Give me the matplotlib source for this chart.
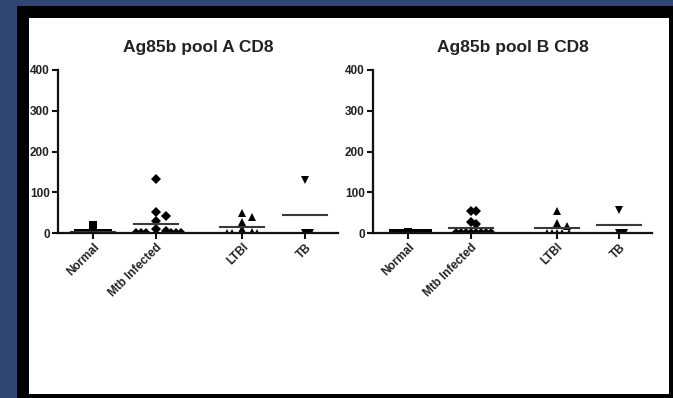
import numpy as np
import matplotlib
matplotlib.use("Agg")
import matplotlib.pyplot as plt
from matplotlib.patches import Rectangle

plt.rcParams["font.family"] = ["Liberation Sans", "DejaVu Sans"]

# group labels and per-donor responses (SFC / 10^6 cells)
groups = ["Normal", "Mtb Infected", "LTBI", "TB"]
markers = ["s", "D", "^", "v"]

pool_a_normal = [19, 0, 0, 0, 0, 0, 0, 0]
pool_a_mtb = [133, 52, 42, 29, 11, 4, 0, 0, 0, 0, 0, 0]
pool_a_ltbi = [48, 39, 27, 9, 2, 0, 0, 0]
pool_a_tb = [130, 0, 0]

pool_b_normal = [2, 1, 0, 0, 0, 0, 0, 0]
pool_b_mtb = [53, 53, 27, 21, 0, 0, 0, 0, 0, 0, 0, 0]
pool_b_ltbi = [53, 24, 17, 0, 0, 0, 0, 0]
pool_b_tb = [56, 0, 0]

titles = ["Ag85b pool A CD8", "Ag85b pool B CD8"]
yticks = [0, 100, 200, 300, 400]

W, H = 673, 398
xpos = [0.0, 1.0, 2.37, 3.37]
xlim = (-0.56, 3.89)
ylim = (0, 400)


def swarm(vals, px_x, px_y, dx_row=5.0, dx_min=10.0, dy_min=7.0, step=2.5):
    """simple beeswarm: offsets (data units) so markers don't pile up.
    points in the same pixel row only need dx_row apart, others are kept
    outside an ellipse of dx_min x dy_min"""
    order = np.argsort(-vals, kind="stable")
    placed = []
    offs = np.zeros(len(vals))
    for i in order:
        y = vals[i] * px_y
        k = 0
        while True:
            cand = ((k + 1) // 2) * step * (1 if k % 2 else -1)
            ok = True
            for px, py in placed:
                dx, dy = cand - px, y - py
                if abs(dy) < 2.5:
                    clash = abs(dx) < dx_row
                else:
                    clash = (dx / dx_min) ** 2 + (dy / dy_min) ** 2 < 1
                if clash:
                    ok = False
                    break
            if ok:
                break
            k += 1
        placed.append((cand, y))
        offs[i] = cand / px_x
    return offs


fig = plt.figure(figsize=(W / 100, H / 100), dpi=100, facecolor="#2f4672")
# black frame and white slide panel, kept behind the axes
fig.patches.append(Rectangle((17 / W, 0), 1 - 17 / W, 1 - 6 / H,
                             transform=fig.transFigure, facecolor="black",
                             edgecolor="none", zorder=-2))
fig.patches.append(Rectangle((29 / W, 4 / H), (669 - 29) / W, (394 - 18) / H,
                             transform=fig.transFigure, facecolor="white",
                             edgecolor="none", zorder=-1))

panels = [
    [pool_a_normal, pool_a_mtb, pool_a_ltbi, pool_a_tb],
    [pool_b_normal, pool_b_mtb, pool_b_ltbi, pool_b_tb],
]
lefts = [58, 373]
widths = [280, 279]
bottom = 1 - 233 / H
height = (233 - 70) / H

for p, data in enumerate(panels):
    ax = fig.add_axes([lefts[p] / W, bottom, widths[p] / W, height])
    ax.set_facecolor("none")
    ax.set_xlim(*xlim)
    ax.set_ylim(*ylim)
    px_x = widths[p] / (xlim[1] - xlim[0])
    px_y = (233 - 70) / (ylim[1] - ylim[0])

    for g, vals in enumerate(data):
        vals = np.asarray(vals, dtype=float)
        offs = swarm(vals, px_x, px_y)
        ax.plot(xpos[g] + offs, vals, linestyle="none", marker=markers[g],
                markersize=5.2, color="black", markeredgewidth=0)
        m = vals.mean()
        ax.plot([xpos[g] - 0.35, xpos[g] + 0.35], [m, m], color="#3a3a3a",
                linewidth=1.5)

    for s in ["top", "right"]:
        ax.spines[s].set_visible(False)
    for s in ["left", "bottom"]:
        ax.spines[s].set_linewidth(1.6)
        ax.spines[s].set_color("#111111")
    ax.set_yticks(yticks)
    ax.set_xticks(xpos)
    ax.set_xticklabels(groups, rotation=45, ha="right", rotation_mode="anchor")
    ax.tick_params(axis="both", length=4, width=1.5, color="#111111",
                   labelsize=8.5, labelcolor="#222222", pad=2)
    for lbl in ax.get_xticklabels() + ax.get_yticklabels():
        lbl.set_fontweight("bold")
    ax.set_title(titles[p], fontsize=12.5, fontweight="bold", color="#222222",
                 pad=13)

fig.savefig("out.png", dpi=100, facecolor=fig.get_facecolor())
